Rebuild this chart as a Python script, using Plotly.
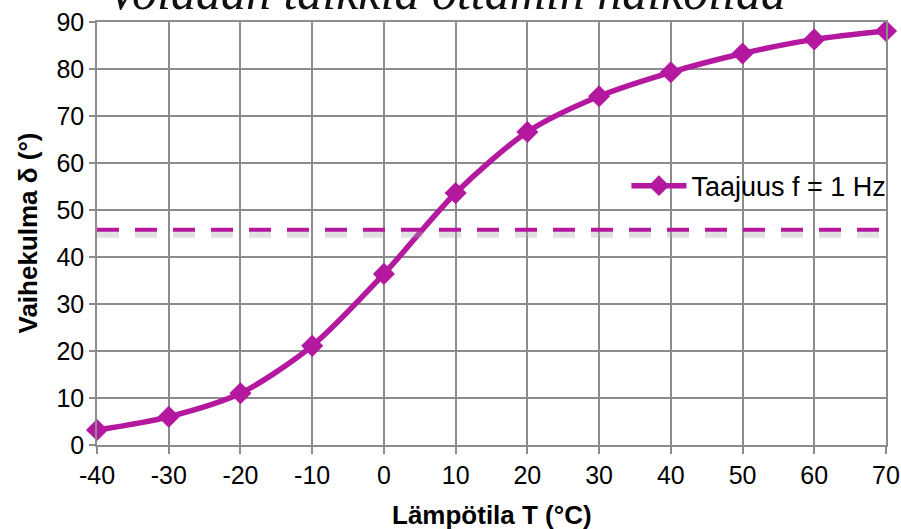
import plotly.graph_objects as go

temps = [-40, -30, -20, -10, 0, 10, 20, 30, 40, 50, 60, 70]
phase = [3.2, 6.0, 11.0, 21.1, 36.4, 53.6, 66.6, 74.2, 79.3, 83.3, 86.3, 88.1]
ref_level = 45.8
series_name = "Taajuus f = 1 Hz"
title_text = "Voidaan taikkia ottamin haikollaa"
x_title = "Lämpötila T (°C)"
y_title = "Vaihekulma δ (°)"
x_ticks = [-40, -30, -20, -10, 0, 10, 20, 30, 40, 50, 60, 70]
x_ticklabels = ["-40", "-30", "-20", "-10", "0", "10", "20", "30", "40", "50", "60", "70"]
y_ticks = [0, 10, 20, 30, 40, 50, 60, 70, 80, 90]

color = "#B3189F"
grid = "#8c8c8c"

fig = go.Figure()
fig.add_trace(go.Scatter(
    x=temps, y=phase, mode="lines+markers", name=series_name,
    line=dict(color=color, width=5.5, shape="spline", smoothing=0.8),
    marker=dict(symbol="diamond", size=17, color=color),
    cliponaxis=False,
))

# soft shadow under the dashed reference line
fig.add_shape(type="line", xref="paper", x0=0, x1=1, yref="y",
              ysizemode="pixel", yanchor=ref_level, y0=-4, y1=-4,
              line=dict(color="rgba(170,170,170,0.35)", width=8, dash="22px,16px"),
              layer="above")
fig.add_shape(type="line", xref="paper", x0=0, x1=1, yref="y",
              y0=ref_level, y1=ref_level,
              line=dict(color=color, width=4, dash="22px,16px"),
              layer="above")

fig.add_annotation(text="<i>" + title_text + "</i>", xref="paper", yref="paper",
                   x=0.443, y=1, yanchor="bottom", yshift=0, showarrow=False,
                   font=dict(family="Liberation Serif", size=50, color="#111"))
fig.add_annotation(text="<b>" + x_title + "</b>", xref="paper", yref="paper",
                   x=0.5, y=0, yanchor="middle", yshift=-70, showarrow=False,
                   font=dict(size=26))
fig.add_annotation(text="<b>" + y_title + "</b>", xref="paper", yref="paper",
                   x=0, y=0.5, xanchor="center", xshift=-70, textangle=-90, showarrow=False,
                   font=dict(size=26))

fig.update_layout(
    width=901, height=529,
    margin=dict(l=97, r=15, t=22, b=84, autoexpand=False),
    paper_bgcolor="white", plot_bgcolor="white",
    font=dict(family="Liberation Sans, Arial", size=25, color="#000"),
    showlegend=True,
    legend=dict(x=0.671, y=0.612, xanchor="left", yanchor="middle",
                bgcolor="rgba(0,0,0,0)", font=dict(size=27), itemwidth=55,
                tracegroupgap=0),
)
fig.update_xaxes(range=[-40, 70], tickvals=x_ticks, ticktext=x_ticklabels,
                 showgrid=True, gridcolor=grid, automargin=False,
                 gridwidth=1.5, zeroline=False, showline=True, linecolor=grid, linewidth=1.5,
                 ticks="outside", ticklen=7, tickcolor=grid, tickwidth=1.5, mirror=True)
fig.update_yaxes(range=[0, 90], tickvals=y_ticks, showgrid=True, gridcolor=grid, automargin=False,
                 gridwidth=1.5, zeroline=False, showline=True, linecolor=grid, linewidth=1.5,
                 ticks="outside", ticklen=6, tickcolor=grid, tickwidth=1.5, mirror=True)

fig.write_html("out.html", config={"displayModeBar": False},
               post_script="document.body.style.margin='0';")
